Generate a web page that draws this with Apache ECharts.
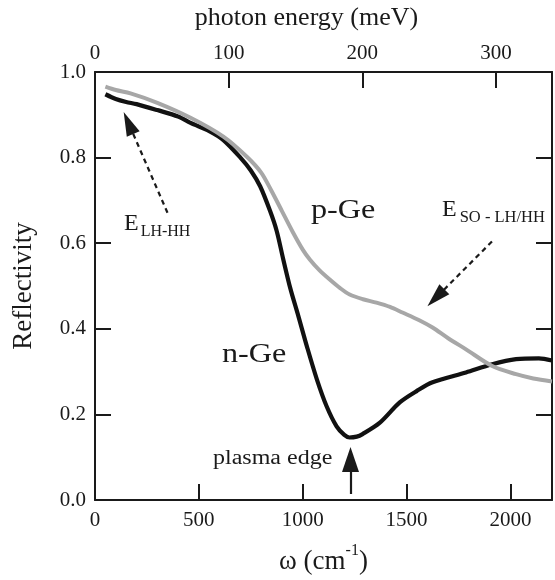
<!DOCTYPE html>
<html>
<head>
<meta charset="utf-8">
<script src="https://cdn.jsdelivr.net/npm/echarts@6/dist/echarts.min.js"></script>
<style>html,body{margin:0;padding:0;background:#fff;}#c{width:555px;height:580px;}</style>
</head>
<body>
<div id="c"></div>
<script>
// wavenumber (cm^-1) and reflectivity values
const nGeX = [50, 100, 150, 200, 300, 400, 460, 550, 618, 700, 750, 795, 843, 875, 905, 940, 980, 1020, 1068, 1115, 1163, 1200, 1225, 1260, 1288, 1370, 1467, 1550, 1625, 1786, 1912, 2027, 2137, 2200];
const nGeY = [0.948, 0.937, 0.930, 0.925, 0.911, 0.896, 0.881, 0.862, 0.841, 0.800, 0.770, 0.733, 0.675, 0.628, 0.565, 0.495, 0.428, 0.359, 0.282, 0.219, 0.172, 0.152, 0.146, 0.148, 0.154, 0.180, 0.228, 0.255, 0.275, 0.298, 0.317, 0.329, 0.331, 0.326];
const pGeX = [50, 100, 171, 300, 460, 618, 731, 800, 850, 900, 950, 1000, 1034, 1080, 1130, 1180, 1226, 1290, 1355, 1420, 1480, 1561, 1625, 1700, 1786, 1912, 2027, 2110, 2200];
const pGeY = [0.966, 0.958, 0.950, 0.928, 0.893, 0.849, 0.802, 0.765, 0.722, 0.675, 0.628, 0.585, 0.562, 0.537, 0.515, 0.495, 0.480, 0.469, 0.461, 0.451, 0.438, 0.420, 0.403, 0.378, 0.352, 0.313, 0.294, 0.284, 0.277];
const bottomTicks = [0, 500, 1000, 1500, 2000];
const topTicks = [0, 100, 200, 300];
const yTicks = [0.0, 0.2, 0.4, 0.6, 0.8, 1.0];
// annotation arrows in data coordinates: [x0, y0, x1, y1]
const arrowLH = [349, 0.671, 161, 0.881];
const arrowSO = [1911, 0.604, 1641, 0.4725];
const arrowPlasma = [1230, 0.014, 1230, 0.0944];

const FONT = '"Liberation Serif", "DejaVu Serif", serif';
const INK = '#1a1a1a';
const chart = echarts.init(document.getElementById('c'), null, {renderer: 'canvas'});

function axisBase() {
  return {
    axisLine: {show: true, onZero: false, lineStyle: {color: INK, width: 2}},
    axisTick: {show: true, inside: true, length: 16, lineStyle: {color: INK, width: 2}},
    splitLine: {show: false},
    axisLabel: {color: INK, fontFamily: FONT, fontSize: 21}
  };
}

function arrowLine(a, dashed, w, h) {
  return {
    type: 'line', xAxisIndex: 0, yAxisIndex: 0, data: [], silent: true,
    markLine: {
      silent: true, animation: false,
      symbol: ['none', 'triangle'], symbolSize: [w, h],
      label: {show: false},
      lineStyle: {color: INK, width: 2.2, type: dashed ? [5, 4] : 'solid'},
      emphasis: {disabled: true},
      data: [[{coord: [a[0], a[1]]}, {coord: [a[2], a[3]]}]]
    }
  };
}

const bottomAxis = axisBase();
const topAxis = axisBase();
const leftAxis = axisBase();
const rightAxis = axisBase();

const option = {
  animation: false,
  backgroundColor: '#fff',
  grid: {left: 95, right: 2, top: 72, bottom: 79, containLabel: false},
  xAxis: [
    Object.assign(bottomAxis, {
      type: 'value', position: 'bottom', min: 0, max: 2200, interval: 500,
      axisLabel: Object.assign(bottomAxis.axisLabel, {margin: 10,
        formatter: v => bottomTicks.includes(v) ? String(v) : ''}),
      name: '{a|ω (cm}{s|-1}{a|)}', nameLocation: 'middle', nameGap: 43,
      nameTextStyle: {rich: {
        a: {fontFamily: FONT, fontSize: 27, color: INK, verticalAlign: 'bottom', lineHeight: 32},
        s: {fontFamily: FONT, fontSize: 16, color: INK, verticalAlign: 'top', lineHeight: 32}
      }}
    }),
    Object.assign(topAxis, {
      type: 'value', position: 'top', min: 0, max: 342, interval: 100,
      axisLabel: Object.assign(topAxis.axisLabel, {margin: 8,
        formatter: v => topTicks.includes(v) ? String(v) : ''}),
      name: 'photon energy (meV)', nameLocation: 'middle', nameGap: 41,
      nameTextStyle: {fontFamily: FONT, fontSize: 26, color: INK, padding: [0, 34, 0, 0]}
    })
  ],
  yAxis: [
    Object.assign(leftAxis, {
      type: 'value', position: 'left', min: 0, max: 1, interval: 0.2,
      axisLabel: Object.assign(leftAxis.axisLabel, {margin: 9,
        formatter: v => v.toFixed(1)}),
      name: 'Reflectivity', nameLocation: 'middle', nameGap: 58, nameRotate: 90,
      nameTextStyle: {fontFamily: FONT, fontSize: 27, color: INK}
    }),
    Object.assign(rightAxis, {
      type: 'value', position: 'right', min: 0, max: 1, interval: 0.2,
      axisLabel: {show: false}
    })
  ],
  graphic: [
    {type: 'text', x: 311, y: 197, scaleX: 1.15, style: {text: 'p-Ge', font: '28px ' + FONT, fill: INK}},
    {type: 'text', x: 222, y: 341, scaleX: 1.15, style: {text: 'n-Ge', font: '28px ' + FONT, fill: INK}},
    {type: 'text', x: 213, y: 449, scaleX: 1.2, style: {text: 'plasma edge', font: '20px ' + FONT, fill: INK}},
    {type: 'text', x: 124, y: 212, style: {
      text: '{e|E}{s|LH-HH}',
      rich: {e: {font: '24px ' + FONT, fill: INK, verticalAlign: 'top', lineHeight: 28},
             s: {font: '16px ' + FONT, fill: INK, verticalAlign: 'bottom', lineHeight: 28, padding: [0, 0, 0, 2]}}
    }},
    {type: 'text', x: 442, y: 198, style: {
      text: '{e|E}{s|SO - LH/HH}',
      rich: {e: {font: '24px ' + FONT, fill: INK, verticalAlign: 'top', lineHeight: 28},
             s: {font: '16.5px ' + FONT, fill: INK, verticalAlign: 'bottom', lineHeight: 28, padding: [0, 0, 0, 3]}}
    }}
  ],
  series: [
    {
      name: 'p-Ge', type: 'line', xAxisIndex: 0, yAxisIndex: 0, smooth: 0.3,
      showSymbol: false, symbol: 'none',
      lineStyle: {color: '#a7a7a7', width: 4},
      data: pGeX.map((x, i) => [x, pGeY[i]]), z: 3
    },
    {
      name: 'n-Ge', type: 'line', xAxisIndex: 0, yAxisIndex: 0, smooth: 0.3,
      showSymbol: false, symbol: 'none',
      lineStyle: {color: '#111', width: 4.2},
      data: nGeX.map((x, i) => [x, nGeY[i]]), z: 2
    },
    arrowLine(arrowLH, true, 14, 24),
    arrowLine(arrowSO, true, 14, 24),
    arrowLine(arrowPlasma, false, 17, 25)
  ]
};
chart.setOption(option);
</script>
</body>
</html>
